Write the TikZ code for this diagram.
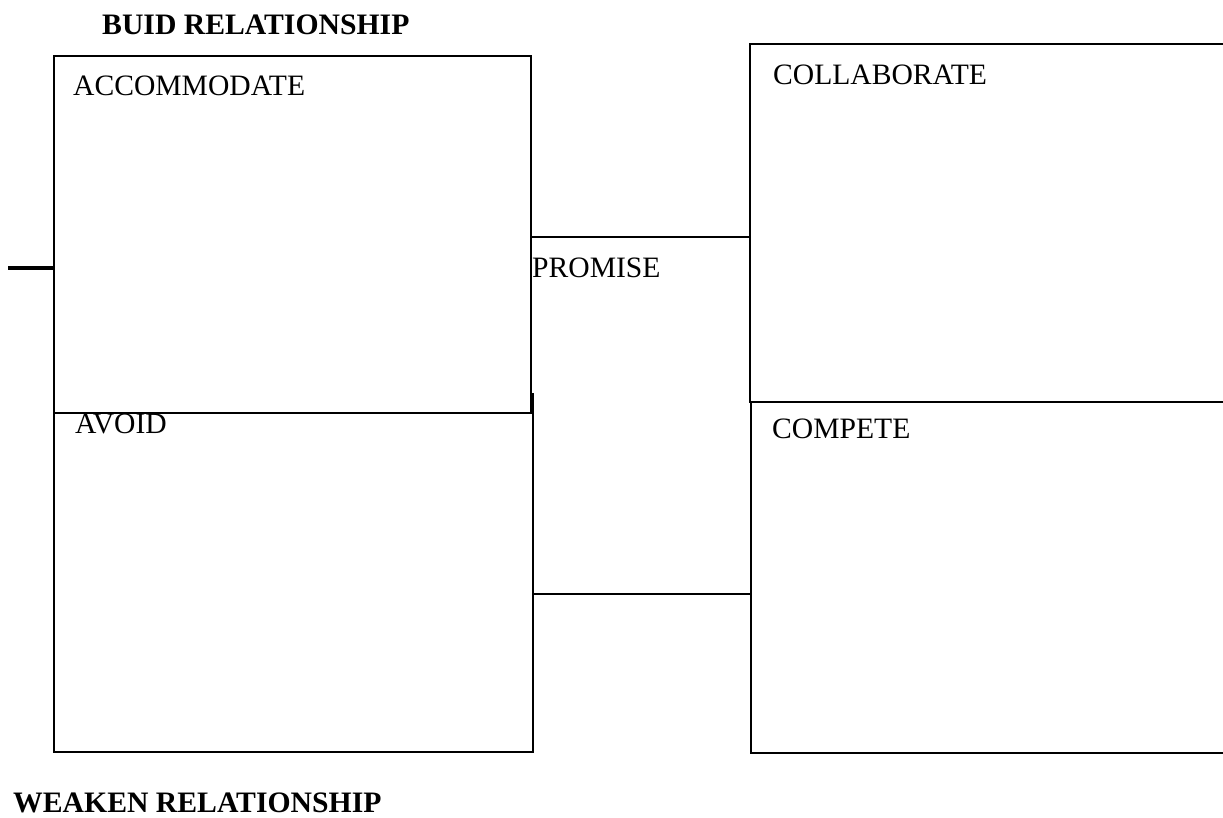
\documentclass[tikz,border=0pt]{standalone}
\usepackage{fontspec}
\setmainfont{Liberation Serif}
\begin{document}
\begin{tikzpicture}[x=1pt,y=-1pt,
  box/.style={draw, line width=1.5pt, fill=white, inner sep=0pt, outer sep=0pt, anchor=north west},
  lbl/.style={anchor=base west, inner sep=0pt, font=\fontsize{29.6}{34}\selectfont},
  head/.style={anchor=base west, inner sep=0pt, font=\fontsize{29.7}{34}\selectfont\bfseries},
  link/.style={line width=1.5pt},
  tick/.style={line width=4pt}]
\useasboundingbox (0,0) rectangle (1223,818);
\clip (0,0) rectangle (1223,818);

% quadrant boxes (lower-left drawn first, upper-left overlaps its top)
\node[box, minimum width=479pt, minimum height=358pt] (avoid) at (54,394) {};
\node[box, minimum width=477pt, minimum height=357pt] (accommodate) at (54,56) {};
\node[box, minimum width=500pt, minimum height=358pt] (collaborate) at (750,44) {};
\node[box, minimum width=500pt, minimum height=351pt] (compete) at (751,402) {};

% middle band joining the columns
\draw[link] (accommodate.east |- 0,237) -- (collaborate.west |- 0,237);
\draw[link] (avoid.east |- 0,594) -- (compete.west |- 0,594);

% short mark on the left edge
\coordinate (tickstart) at (8,268);
\draw[tick] (tickstart) -- (tickstart -| accommodate.west);

% labels
\node[head] (build) at (102,35) {BUID RELATIONSHIP};
\node[head] (weaken) at (13,812) {WEAKEN RELATIONSHIP};
\node[lbl] (accText) at (73,96) {ACCOMMODATE};
\node[lbl] (colText) at (773,85) {COLLABORATE};
\node[lbl] (proText) at (532,278) {PROMISE};
\node[lbl] (avoText) at (75,433) {AVOID};
\node[lbl] (comText) at (772,438) {COMPETE};
\end{tikzpicture}
\end{document}
